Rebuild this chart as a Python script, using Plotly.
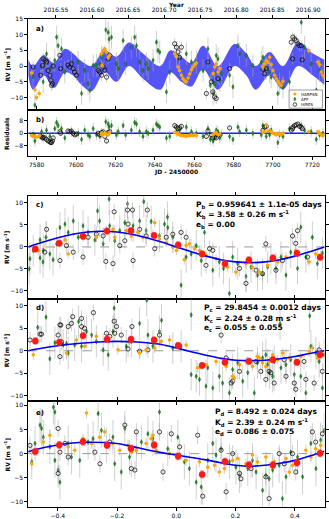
import plotly.graph_objects as go

W, H = 329, 519
def px(x): return x / W
def py(y): return 1 - y / H

# ---------------- DATA ----------------
YEARS = ['2016.55', '2016.60', '2016.65', '2016.70', '2016.75', '2016.80', '2016.85', '2016.90']
JD_TICKS = [7580, 7600, 7620, 7640, 7660, 7680, 7700, 7720]

# model envelope (panel a): JD, upper, lower
ENV_JD = [7575.7, 7578.2, 7583.6, 7588.7, 7594.3, 7598.5, 7602.8, 7607.8, 7614.6, 7620.5, 7626.9, 7634.0,
          7642.8, 7647.9, 7653.5, 7658.6, 7664.5, 7672.1, 7680.5, 7686.5, 7691.2, 7698.3, 7705.1, 7712.7,
          7720.3, 7726.2]
ENV_UP = [2, 0, 3.5, 1, 5.5, 4, 1.5, 0, 5, 3, 7.5, 4, 0, 5, 3, 1, 6.5, 0, 7, 4, 0, 4.5, 0, 7.5, 4, 2]
ENV_LO = [-3, -7.5, -3, -7, -2, -3, -6, -8, -2, -5, 0, -4, -7.5, -2, -5, -6.5, -1, -7.5, 0, -3, -7.5, -3, -7.5, 0, -3, -6]

# (JD, RV, residual)
HARPSN_A = [(7577.4, -2.2, -1.5), (7579.1, -7.5, -2), (7579.9, -10, -2.5), (7581.3, -8.7, -1.5),
            (7612.9, 3.9, 0), (7613.7, 4.9, -0.5), (7614.6, 5.5, 0), (7615.4, 4.4, -0.5), (7616.3, 2.8, -1),
            (7617.1, 3.4, 0.5), (7613.2, 0.2, -1), (7650.1, 3.9, 0.5), (7651.0, 3.0, 0), (7651.8, -0.3, -0.5),
            (7652.6, -1.4, -1), (7653.5, -2.9, -1.5), (7654.3, -4.0, -1.5), (7655.2, -4.7, -1.5),
            (7656.0, -5.0, -2), (7656.9, -3.8, -1.5), (7657.7, -2.5, -1.5), (7658.6, -1.2, -1),
            (7659.4, -0.3, -1.5), (7660.3, 0.5, -1), (7661.1, 1.0, -1.5), (7669.6, -2.4, -1),
            (7670.4, -0.3, 0), (7671.2, 0.7, 0.5), (7672.1, -1.9, -1), (7673.0, -0.8, -0.5),
            (7694.9, -0.3, 0.5), (7695.7, 0.7, 1), (7696.6, 1.8, 5.5), (7697.5, 1.2, 1.5), (7698.3, 2.8, 2),
            (7699.1, 0.5, 1), (7700.0, -1.4, 0), (7700.8, -2.9, -0.5), (7701.7, -4.0, -1), (7702.5, -5.0, 0),
            (7703.4, -5.6, -0.5), (7704.2, -6.1, -1), (7705.1, -4.8, 0), (7718.2, 4.9, 1), (7722.8, 1.3, 1),
            (7723.7, 0.4, 0), (7724.5, -1.9, -1), (7725.4, -2.9, -1.5), (7726.0, -3.4, -1)]

APF_A = [(7578.2, -3.3, -1), (7579.1, -12.4, -5), (7582.5, -0.3, 1), (7583.3, -5.0, -3), (7585.0, 3.9, 2),
         (7586.7, -0.8, -2), (7589.2, 1.8, 3), (7590.1, 9.2, 7), (7590.9, 6.5, 5), (7592.6, 5.5, 3),
         (7594.3, -1.9, -3), (7597.7, 1.3, 1), (7601.1, 1.3, 0), (7602.8, -8.7, -4), (7604.4, -1.4, 2),
         (7606.1, -5.6, -1), (7607.0, -7.7, -2), (7608.7, 0.2, 3), (7610.4, 0.2, -1), (7612.1, 0.7, -2),
         (7612.9, 2.8, 0), (7615.1, 11.5, 7.5), (7616.3, 10.7, 6), (7616.8, 8.6, 4), (7618.0, 9.2, 5),
         (7620.5, 0.7, -1), (7621.4, -0.8, 1), (7623.9, 8.1, 5), (7625.2, 0.7, -1), (7628.1, 6.0, 2),
         (7629.8, 9.2, 7), (7630.7, 6.5, 6), (7632.3, 1.3, 1), (7634.0, -1.4, -2), (7635.7, 0.7, 1),
         (7636.6, -0.8, 0), (7639.1, 1.8, 2), (7640.8, 7.6, 6), (7641.6, 5.0, 5), (7642.5, 4.4, 4),
         (7645.9, -8.2, -3), (7647.6, -1.9, -2), (7651.0, 3.4, 1), (7652.6, 2.3, 2), (7656.0, 3.9, 4),
         (7658.6, 1.3, 1), (7661.1, 1.3, 0), (7664.5, -1.4, -2), (7667.0, 5.5, 3), (7668.2, -6.1, -4),
         (7669.6, -8.7, -5), (7670.4, -5.6, -2), (7671.2, 3.4, 2), (7672.1, 2.3, 1), (7673.0, -4.5, -3),
         (7673.8, -2.4, -1), (7678.0, -2.9, -2), (7679.7, -6.6, -4), (7682.2, 6.5, 4), (7683.1, 3.9, 1),
         (7686.5, 3.4, 2), (7689.8, 0.2, 0), (7694.1, 1.3, -1), (7694.9, 2.8, 5), (7696.6, -0.8, -2),
         (7698.3, -1.9, -1), (7699.1, -3.5, 2), (7702.5, -8.7, -6), (7703.4, -5.6, -1), (7705.1, -6.6, -2),
         (7708.4, -5.0, 3), (7714.4, 13.9, 5), (7716.1, 6.0, 2), (7719.4, 0.7, 1), (7722.0, -7.7, -4),
         (7723.7, -1.4, -1), (7725.4, -2.9, 0)]

HIRES_A = [(7578.2, -0.3, -1), (7582.0, -2.9, -2), (7583.0, 0.2, -3), (7583.3, 2.3, -2.5), (7584.2, 1.8, -3),
           (7585.0, 1.3, -4), (7585.8, -1.4, -5), (7586.7, -2.9, -5.5), (7587.2, -4.5, -6), (7587.5, -6.1, -6),
           (7588.0, -5.6, -5), (7588.4, 0.0, -3), (7591.8, 3.4, 1), (7592.2, -0.8, 0), (7595.9, 0.3, 1.5),
           (7596.8, -0.3, 1), (7597.6, 0.7, 1.5), (7598.5, -0.8, 0), (7599.3, -1.9, -1), (7600.2, -2.9, -0.5),
           (7611.3, -1.4, 0), (7612.1, -1.9, -1), (7613.0, -2.9, 0.5), (7613.8, -0.3, 1), (7614.6, -1.3, -2),
           (7615.5, -3.5, -5), (7616.3, 2.3, 0.5), (7617.1, 3.4, 1), (7650.1, 7.1, 5), (7651.0, 6.0, 4),
           (7651.8, 4.5, 3), (7652.6, 2.8, 3.5), (7653.5, 6.0, 4.5), (7666.2, -8.7, -2), (7667.0, 1.3, 1.5),
           (7668.7, -5.0, -1), (7669.5, -8.2, -3), (7670.4, -9.8, -2.5), (7671.2, -10.3, -3), (7672.1, -4.0, -1),
           (7678.0, -0.8, 3.5), (7694.9, -1.0, 2), (7695.8, -2.4, 4), (7696.6, -0.8, 4.5), (7709.3, 7.6, 2),
           (7710.0, 2.3, 3), (7710.1, 9.2, 4), (7711.0, 8.6, 5), (7711.8, 8.1, 5.5), (7712.7, 7.1, 6),
           (7713.5, 6.5, 4.5), (7714.4, 6.5, 4), (7714.9, 2.0, 3)]

# phase-folded panels: (phase, RV)
PH_MODEL = [-0.5, -0.45, -0.4, -0.35, -0.3, -0.25, -0.2, -0.15, -0.1, -0.05, 0.0, 0.05, 0.1, 0.15, 0.2,
            0.25, 0.3, 0.35, 0.4, 0.45, 0.5]
MODEL_B = [0.0, 1.1, 2.1, 2.9, 3.4, 3.58, 3.4, 2.9, 2.1, 1.1, 0.0, -1.1, -2.1, -2.9, -3.4, -3.58, -3.4, -2.9,
           -2.1, -1.1, 0.0]
MODEL_C = [0.0, 0.6, 1.1, 1.5, 1.8, 2.0, 2.1, 2.0, 1.8, 1.4, 0.6, -0.2, -1.0, -1.7, -2.1, -2.2, -2.1, -1.8,
           -1.3, -0.6, 0.0]
MODEL_D = [0.4, 1.2, 1.8, 2.2, 2.35, 2.3, 2.1, 1.5, 0.8, 0.2, -0.3, -0.8, -1.3, -1.9, -2.4, -2.6, -2.4, -2.0,
           -1.4, -0.5, 0.5]

BIN_PH = [-0.476, -0.395, -0.315, -0.234, -0.153, -0.075, 0.006, 0.087, 0.164, 0.245, 0.326, 0.407, 0.485]
BIN_B = [-0.45, 0.85, 2.4, 3.6, 3.7, 2.6, 0.45, -1.6, -3.85, -2.95, -2.5, -1.45, -2.35]
BIN_C = [2.2, 1.9, 3.35, 2.55, 2.55, 2.4, 1.15, -3.3, -2.55, -2.35, -1.98, -2.55, -0.88]
BIN_D = [0.42, 1.8, 2.45, 1.75, 1.05, 1.8, -0.55, -4.3, -1.65, -2.35, -2.35, -1.9, 0.1]

C_APF = [(-0.497, -5.0), (-0.494, -2.7), (-0.483, -0.8), (-0.46, 1.6), (-0.46, -2.5), (-0.449, -0.8),
         (-0.45, -3.4), (-0.44, 2.2), (-0.427, -1.6), (-0.416, -2.9), (-0.404, 0.7), (-0.393, 4.4),
         (-0.376, 5.2), (-0.365, 3.3), (-0.348, 5.9), (-0.331, 2.2), (-0.315, 4.8), (-0.298, 3.3),
         (-0.275, 1.6), (-0.266, 8.2), (-0.259, 5.9), (-0.247, 0.7), (-0.227, 10.9), (-0.225, 4.8),
         (-0.208, 1.4), (-0.191, 3.7), (-0.174, 5.5), (-0.165, 9.8), (-0.146, 4.8), (-0.124, 5.9),
         (-0.11, 10.3), (-0.102, 3.7), (-0.085, 5.8), (-0.057, 2.5), (-0.04, 5.2), (-0.03, 6.8),
         (-0.029, 4.4), (-0.012, 2.2), (0.016, -8.7), (0.033, -2.3), (0.05, -1.6), (0.067, 0.3),
         (0.084, -3.1), (0.095, 3.3), (0.123, -5.3), (0.145, -3.4), (0.159, -4.9), (0.179, -10.6),
         (0.19, -2.3), (0.207, -3.8), (0.235, -6.7), (0.252, -4.6), (0.274, -6.4), (0.291, -6.2),
         (0.308, -4.6), (0.319, -2.7), (0.336, -4.9), (0.353, -2.3), (0.37, -6.4), (0.386, -1.2),
         (0.409, -4.9), (0.42, 4.5), (0.437, -2.3), (0.459, 2.2), (0.476, -3.8), (0.493, -1.4)]
C_HARPSN = [(-0.466, -0.8), (-0.376, 1.6), (-0.365, -1.6), (-0.315, 2.9), (-0.27, 2.2), (-0.236, 3.7),
            (-0.214, 4.0), (-0.208, 2.2), (-0.169, 3.7), (-0.152, 2.5), (-0.13, 3.3), (-0.113, 2.2),
            (-0.079, 2.9), (-0.073, 5.5), (-0.057, 1.8), (-0.034, 1.0), (-0.012, -0.1), (0.0, -0.8),
            (0.027, -2.9), (0.033, 0.3), (0.044, 0.7), (0.061, -0.4), (0.078, -0.8), (0.1, -1.9),
            (0.134, -2.7), (0.173, -4.6), (0.201, -5.7), (0.235, -3.8), (0.257, -4.6), (0.28, -5.7),
            (0.308, -4.2), (0.342, -3.4), (0.37, -2.3), (0.403, -0.8), (0.448, -3.4), (0.47, -1.6),
            (0.487, -1.9)]
C_HIRES = [(-0.438, 4.0), (-0.444, -1.2), (-0.393, -3.1), (-0.371, 0.3), (-0.348, -1.2), (-0.315, -2.3),
           (-0.298, 2.2), (-0.27, 2.9), (-0.247, 2.5), (-0.238, -3.3), (-0.214, -3.8), (-0.21, 8.0),
           (-0.191, 0.3), (-0.174, 1.4), (-0.165, 8.4), (-0.163, 5.2), (-0.148, 8.4), (-0.146, -3.1),
           (-0.124, 4.0), (-0.102, 2.5), (-0.098, 8.4), (-0.073, -0.4), (-0.034, 2.2), (-0.012, 2.9),
           (0.016, 3.3), (0.033, 2.2), (0.1, -4.2), (0.112, -0.4), (0.123, -0.8), (0.213, -4.9),
           (0.235, -8.3), (0.269, -5.3), (0.291, -6.1), (0.302, 0.7), (0.336, -5.3), (0.358, -3.1),
           (0.392, 2.5), (0.403, 0.8), (0.409, 3.7), (0.443, -2.3)]

D_APF = [(-0.468, 5.2), (-0.44, 7.5), (-0.427, -1.8), (-0.41, 1.8), (-0.382, 1.3), (-0.371, 1.6),
         (-0.365, -0.5), (-0.343, 1.3), (-0.33, 6.5), (-0.32, 1.0), (-0.303, 4.3), (-0.286, 3.5),
         (-0.27, 2.1), (-0.247, 0.2), (-0.23, -0.9), (-0.214, 4.3), (-0.21, 9.5), (-0.169, 1.0),
         (-0.152, 2.1), (-0.124, 6.1), (-0.1, 11.3), (-0.096, 3.5), (-0.079, 1.0), (-0.057, 4.3),
         (-0.05, 6.8), (-0.012, 0.6), (0.016, 1.0), (0.05, 8.0), (0.05, -5.3), (0.067, -5.7),
         (0.078, -6.4), (0.1, -7.9), (0.106, -3.8), (0.123, -8.3), (0.145, -5.7), (0.156, -7.2),
         (0.179, -9.4), (0.19, -4.2), (0.207, -2.7), (0.224, -6.8), (0.241, -4.9), (0.263, -9.4),
         (0.274, -2.7), (0.291, -1.6), (0.302, -0.9), (0.308, -3.1), (0.314, -4.9), (0.325, -5.7),
         (0.33, -2.4), (0.35, 6.0), (0.353, -3.8), (0.37, -3.1), (0.386, -2.0), (0.398, -5.3),
         (0.42, -5.7), (0.437, -9.4), (0.45, 7.8), (0.454, 1.0), (0.471, -0.5), (0.482, -2.4),
         (0.493, -8.3), (0.499, -0.9)]
D_HARPSN = [(-0.483, -0.9), (-0.371, -0.5), (-0.337, 2.4), (-0.309, 1.0), (-0.27, 3.2), (-0.236, 2.8),
            (-0.197, 0.2), (-0.158, 1.9), (-0.124, -0.5), (-0.102, 0.2), (-0.073, 0.6), (-0.051, 2.1),
            (-0.023, 2.4), (0.033, 1.3), (0.072, -3.8), (0.1, -3.1), (0.134, -2.4), (0.168, -3.5),
            (0.19, -5.7), (0.196, -6.1), (0.213, -3.1), (0.235, -2.4), (0.257, -3.5), (0.274, -1.3),
            (0.28, -1.6), (0.291, -2.7), (0.302, -3.5), (0.314, -2.4), (0.325, -0.9), (0.342, -2.0),
            (0.359, -0.5), (0.381, -1.6), (0.403, -2.4), (0.42, -1.3), (0.448, -0.1), (0.459, 0.6),
            (0.476, -1.6), (0.487, -0.9)]
D_HIRES = [(-0.494, 2.4), (-0.46, 3.7), (-0.455, 3.7), (-0.399, 3.5), (-0.393, 5.8), (-0.393, -1.3),
           (-0.388, 2.0), (-0.39, 5.7), (-0.365, 5.4), (-0.354, 6.1), (-0.35, 7.6), (-0.32, 5.4),
           (-0.32, 7.2), (-0.31, 5.0), (-0.28, 8.5), (-0.236, 3.9), (-0.225, 3.2), (-0.208, 3.9),
           (-0.21, 6.6), (-0.202, 5.4), (-0.186, 3.5), (-0.163, 0.4), (-0.15, 5.4), (-0.124, -0.1),
           (-0.096, 0.2), (-0.057, 3.5), (0.151, 3.5), (0.168, -1.6), (0.185, -7.2), (0.19, -6.8),
           (0.213, -4.6), (0.269, -2.4), (0.285, -4.6), (0.302, -6.4), (0.313, -4.6), (0.319, -4.9),
           (0.33, -7.2), (0.364, -2.0), (0.37, -5.7), (0.398, -7.2), (0.403, -8.6), (0.431, -2.4),
           (0.437, -6.4), (0.465, -7.2), (0.482, 0.2), (0.493, -4.6)]

E_APF = [(-0.488, -1.7), (-0.477, 2.1), (-0.46, 5.9), (-0.455, 5.2), (-0.449, 3.4), (-0.427, 1.4),
         (-0.415, 9.6), (-0.41, 8.6), (-0.41, -1.4), (-0.399, -3.4), (-0.393, -5.9), (-0.365, 2.1),
         (-0.354, -0.7), (-0.326, -1.4), (-0.298, 2.4), (-0.281, 3.1), (-0.264, 8.3), (-0.253, 4.8),
         (-0.236, 1.7), (-0.214, 3.4), (-0.208, -2.1), (-0.186, -3.8), (-0.174, 5.2), (-0.158, -0.7),
         (-0.135, 0.7), (-0.118, 2.4), (-0.096, 4.1), (-0.079, 3.1), (-0.057, 8.6), (-0.029, 1.0),
         (0.005, 3.4), (0.027, -1.7), (0.044, -3.1), (0.067, -5.9), (0.084, -6.9), (0.106, -1.4),
         (0.123, 2.1), (0.134, -0.3), (0.151, 1.0), (0.179, -1.7), (0.201, -2.8), (0.213, -4.5),
         (0.241, -3.1), (0.257, -1.4), (0.269, -3.8), (0.291, -7.6), (0.302, -4.5), (0.313, -5.2),
         (0.325, -3.4), (0.347, -2.4), (0.358, -9.3), (0.37, -4.8), (0.386, 0.3), (0.409, -0.7),
         (0.426, -4.8), (0.454, 2.1), (0.471, -3.1), (0.487, 2.8), (0.499, 4.8)]
E_HARPSN = [(-0.488, -2.1), (-0.449, 2.4), (-0.427, 3.8), (-0.365, 1.4), (-0.343, 0.7), (-0.315, 3.1),
            (-0.303, 8.4), (-0.286, 2.1), (-0.259, 3.4), (-0.242, 4.5), (-0.214, 2.1), (-0.191, 0.7),
            (-0.163, 1.7), (-0.152, 0.3), (-0.135, 0.7), (-0.102, 2.1), (-0.085, 3.1), (-0.079, 3.8),
            (-0.068, 0.7), (-0.023, 0.0), (0.033, -1.4), (0.078, -1.7), (0.106, -2.8), (0.129, -2.4),
            (0.145, -3.8), (0.162, -3.1), (0.19, -1.4), (0.207, -1.0), (0.235, -2.1), (0.257, -0.3),
            (0.274, -1.7), (0.302, -0.7), (0.33, -1.7), (0.37, -1.0), (0.381, -3.8), (0.392, -2.4),
            (0.437, 0.7), (0.454, -0.7), (0.47, 1.0), (0.487, 1.7)]
E_HIRES = [(-0.494, 1.7), (-0.399, 5.2), (-0.399, -4.1), (-0.393, 0.3), (-0.376, 2.1), (-0.365, -0.7),
           (-0.275, 0.3), (-0.258, -2.1), (-0.225, 2.4), (-0.174, 5.9), (-0.152, -3.1), (-0.14, -3.4),
           (-0.135, 4.5), (-0.057, 4.5), (-0.045, -3.8), (-0.017, 4.1), (0.011, 1.4), (0.072, 3.8),
           (0.089, -8.8), (0.151, 0.7), (0.168, -7.9), (0.19, 0.0), (0.213, -4.1), (0.218, -5.2),
           (0.252, -3.1), (0.302, -4.8), (0.313, -9.3), (0.347, 0.0), (0.364, -2.1), (0.392, 0.0),
           (0.403, -3.8), (0.459, 4.5), (0.47, 2.4), (0.493, 4.1)]

ERR = {'HARPSN': 1.1, 'APF': 3.6, 'HIRES': 1.8}
BIN_ERR = 0.7

TXT_C = ['P<sub>b</sub> = 0.959641 ± 1.1e-05 days', 'K<sub>b</sub> = 3.58 ± 0.26 m s<sup>-1</sup>', 'e<sub>b</sub> = 0.00']
TXT_D = ['P<sub>c</sub> = 29.8454 ± 0.0012 days', 'K<sub>c</sub> = 2.24 ± 0.28 m s<sup>-1</sup>', 'e<sub>c</sub> = 0.055 ± 0.055']
TXT_E = ['P<sub>d</sub> = 8.492 ± 0.024 days', 'K<sub>d</sub> = 2.39 ± 0.24 m s<sup>-1</sup>', 'e<sub>d</sub> = 0.086 ± 0.075']

# ---------------- FIGURE ----------------
FONT = 'DejaVu Sans'
GRAY = 'rgba(170,170,170,0.55)'
STY = {
    'HARPSN': dict(symbol='circle', size=3.6, color='#FFA500', line=dict(width=0)),
    'APF': dict(symbol='diamond-tall', size=3.4, color='#1f8f1f', line=dict(width=0.4, color='#0b4d0b')),
    'HIRES': dict(symbol='circle-open', size=4.2, color='black', line=dict(width=0.7, color='black')),
}

fig = go.Figure()

def add_pts(xs, ys, inst, xa, ya):
    fig.add_trace(go.Scatter(x=xs, y=ys, mode='markers', xaxis=xa, yaxis=ya, marker=STY[inst],
                             error_y=dict(type='constant', value=ERR[inst], color=GRAY, thickness=1, width=0),
                             showlegend=False, hoverinfo='skip'))

# panel a: model band
fig.add_trace(go.Scatter(x=ENV_JD, y=ENV_UP, mode='lines', line=dict(width=0, shape='spline'),
                         xaxis='x', yaxis='y', showlegend=False, hoverinfo='skip'))
fig.add_trace(go.Scatter(x=ENV_JD, y=ENV_LO, mode='lines', line=dict(width=0, shape='spline'),
                         fill='tonexty', fillcolor='rgba(40,40,245,0.9)',
                         fillpattern=dict(shape='|', size=2, solidity=0.6, fgcolor='#0000e6',
                                          bgcolor='rgba(95,95,255,0.85)'),
                         xaxis='x', yaxis='y', showlegend=False, hoverinfo='skip'))

for inst, data in (('APF', APF_A), ('HIRES', HIRES_A), ('HARPSN', HARPSN_A)):
    add_pts([d[0] for d in data], [d[1] for d in data], inst, 'x', 'y')
    add_pts([d[0] for d in data], [d[2] for d in data], inst, 'x2', 'y2')

# phase panels
for (apf, hrp, hir, model, bins, xa, ya) in ((C_APF, C_HARPSN, C_HIRES, MODEL_B, BIN_B, 'x3', 'y3'),
                                             (D_APF, D_HARPSN, D_HIRES, MODEL_C, BIN_C, 'x4', 'y4'),
                                             (E_APF, E_HARPSN, E_HIRES, MODEL_D, BIN_D, 'x5', 'y5')):
    for inst, data in (('APF', apf), ('HIRES', hir), ('HARPSN', hrp)):
        add_pts([d[0] for d in data], [d[1] for d in data], inst, xa, ya)
    fig.add_trace(go.Scatter(x=PH_MODEL, y=model, mode='lines', line=dict(color='#0000ee', width=1.6, shape='spline'),
                             xaxis=xa, yaxis=ya, showlegend=False, hoverinfo='skip'))
    fig.add_trace(go.Scatter(x=BIN_PH, y=bins, mode='markers', xaxis=xa, yaxis=ya,
                             marker=dict(symbol='circle', size=6.5, color='#ff1a1a', line=dict(width=0)),
                             error_y=dict(type='constant', value=BIN_ERR, color='rgba(255,60,60,0.8)', thickness=0.8, width=2),
                             showlegend=False, hoverinfo='skip'))

XD = [px(28.3), px(325.5)]
common = dict(showline=True, linecolor='black', linewidth=1, mirror='ticks', ticks='outside', ticklen=3,
              tickwidth=0.8, tickcolor='black', showgrid=False, zeroline=False,
              tickfont=dict(family=FONT, size=6, color='black'))

YEAR_JD = [7388.5 + (float(y) - 2016.0) * 366.0 for y in YEARS]
JDR = [7575.7, 7726.2]

fig.update_layout(
    width=W, height=H, margin=dict(l=0, r=0, t=0, b=0), paper_bgcolor='white', plot_bgcolor='white',
    showlegend=False,
    xaxis=dict(common, domain=XD, range=JDR, anchor='y', side='top', tickvals=YEAR_JD, ticktext=YEARS, mirror=True),
    yaxis=dict(common, domain=[py(107.3), py(15)], range=[-14.1, 15], anchor='x', tickvals=[-10, -5, 0, 5, 10, 15]),
    xaxis2=dict(common, domain=XD, range=JDR, anchor='y2', tickvals=JD_TICKS),
    yaxis2=dict(common, domain=[py(153.3), py(107.3)], range=[-14.8, 14.8], anchor='x2', tickvals=[-8, 0, 8]),
    xaxis3=dict(common, domain=XD, range=[-0.5, 0.5], anchor='y3', tickvals=[-0.4, -0.2, 0, 0.2, 0.4], showticklabels=False),
    yaxis3=dict(common, domain=[py(297.5), py(193)], range=[-11.9, 11.7], anchor='x3', tickvals=[-10, -5, 0, 5, 10]),
    xaxis4=dict(common, domain=XD, range=[-0.5, 0.5], anchor='y4', tickvals=[-0.4, -0.2, 0, 0.2, 0.4], showticklabels=False),
    yaxis4=dict(common, domain=[py(400.5), py(297.5)], range=[-11.3, 11.5], anchor='x4', tickvals=[-10, -5, 0, 5, 10]),
    xaxis5=dict(common, domain=XD, range=[-0.5, 0.5], anchor='y5', tickvals=[-0.4, -0.2, 0, 0.2, 0.4], tickformat='.1f'),
    yaxis5=dict(common, domain=[py(506.7), py(400.5)], range=[-11.0, 10.8], anchor='x5', tickvals=[-10, -5, 0, 5, 10]),
)

shapes = []
shapes.append(dict(type='line', xref='x2 domain', yref='y2', x0=0, x1=1, y0=0, y1=0,
                   line=dict(color='#1a1aff', width=1.5), layer='below'))
for ya in ('y3', 'y4', 'y5'):
    shapes.append(dict(type='line', xref=ya.replace('y', 'x') + ' domain', yref=ya, x0=0, x1=1, y0=0, y1=0,
                       line=dict(color='#999999', width=1, dash='dash'), layer='below'))
# legend box (panel a)
shapes.append(dict(type='rect', xref='paper', yref='paper', x0=px(290), x1=px(323.5), y0=py(105), y1=py(86.7),
                   line=dict(color='#555555', width=0.6), fillcolor='white', layer='above'))
shapes.append(dict(type='circle', xref='paper', yref='paper', x0=px(294.2), x1=px(297.4), y0=py(92.3), y1=py(89.1),
                   line=dict(width=0), fillcolor='#FFA500', layer='above'))
dx, dy = 1.1, 1.9
cx, cy = 295.8, 95.8
shapes.append(dict(type='path', xref='paper', yref='paper',
                   path=f'M {px(cx)} {py(cy-dy)} L {px(cx+dx)} {py(cy)} L {px(cx)} {py(cy+dy)} L {px(cx-dx)} {py(cy)} Z',
                   line=dict(width=0.4, color='#0b4d0b'), fillcolor='#1f8f1f', layer='above'))
shapes.append(dict(type='circle', xref='paper', yref='paper', x0=px(294.0), x1=px(297.6), y0=py(103.1), y1=py(99.5),
                   line=dict(width=0.7, color='black'), fillcolor='rgba(0,0,0,0)', layer='above'))
fig.update_layout(shapes=shapes)

ann = []
def A(text, x, y, size=6, bold=True, xanchor='center', yanchor='middle', angle=0):
    t = f'<b>{text}</b>' if bold else text
    ann.append(dict(text=t, x=px(x), y=py(y), xref='paper', yref='paper', showarrow=False,
                    xanchor=xanchor, yanchor=yanchor, textangle=angle,
                    font=dict(family=FONT, size=size, color='black')))

A('Year', 176.9, 1.0)
A('JD - 2450000', 176.9, 169)
A('Phase', 176.9, 518, yanchor='top')
for yc in (61, 245, 349, 454):
    A('RV [m s<sup>-1</sup>]', 7, yc, angle=-90)
A('Residuals', 7, 130, angle=-90)
for lab, yy in (('a)', 25), ('b)', 117), ('c)', 202.7), ('d)', 306.7), ('e)', 411.7)):
    A(lab, 34.5, yy, size=7, xanchor='left')
for lines, x0, ys in ((TXT_C, 194.3, (202.7, 212.5, 222.3)), (TXT_D, 202.3, (306.7, 316.7, 326.6)),
                      (TXT_E, 213.3, (411.0, 421.3, 431.6))):
    for t, yy in zip(lines, ys):
        A(t, x0, yy, size=7.5, xanchor='left')
for t, yy in (('HARPSN', 90.7), ('APF', 95.8), ('HIRES', 101.3)):
    A(t, 300, yy, size=4, bold=False, xanchor='left')
fig.update_layout(annotations=ann)

fig.write_html('out.html')
